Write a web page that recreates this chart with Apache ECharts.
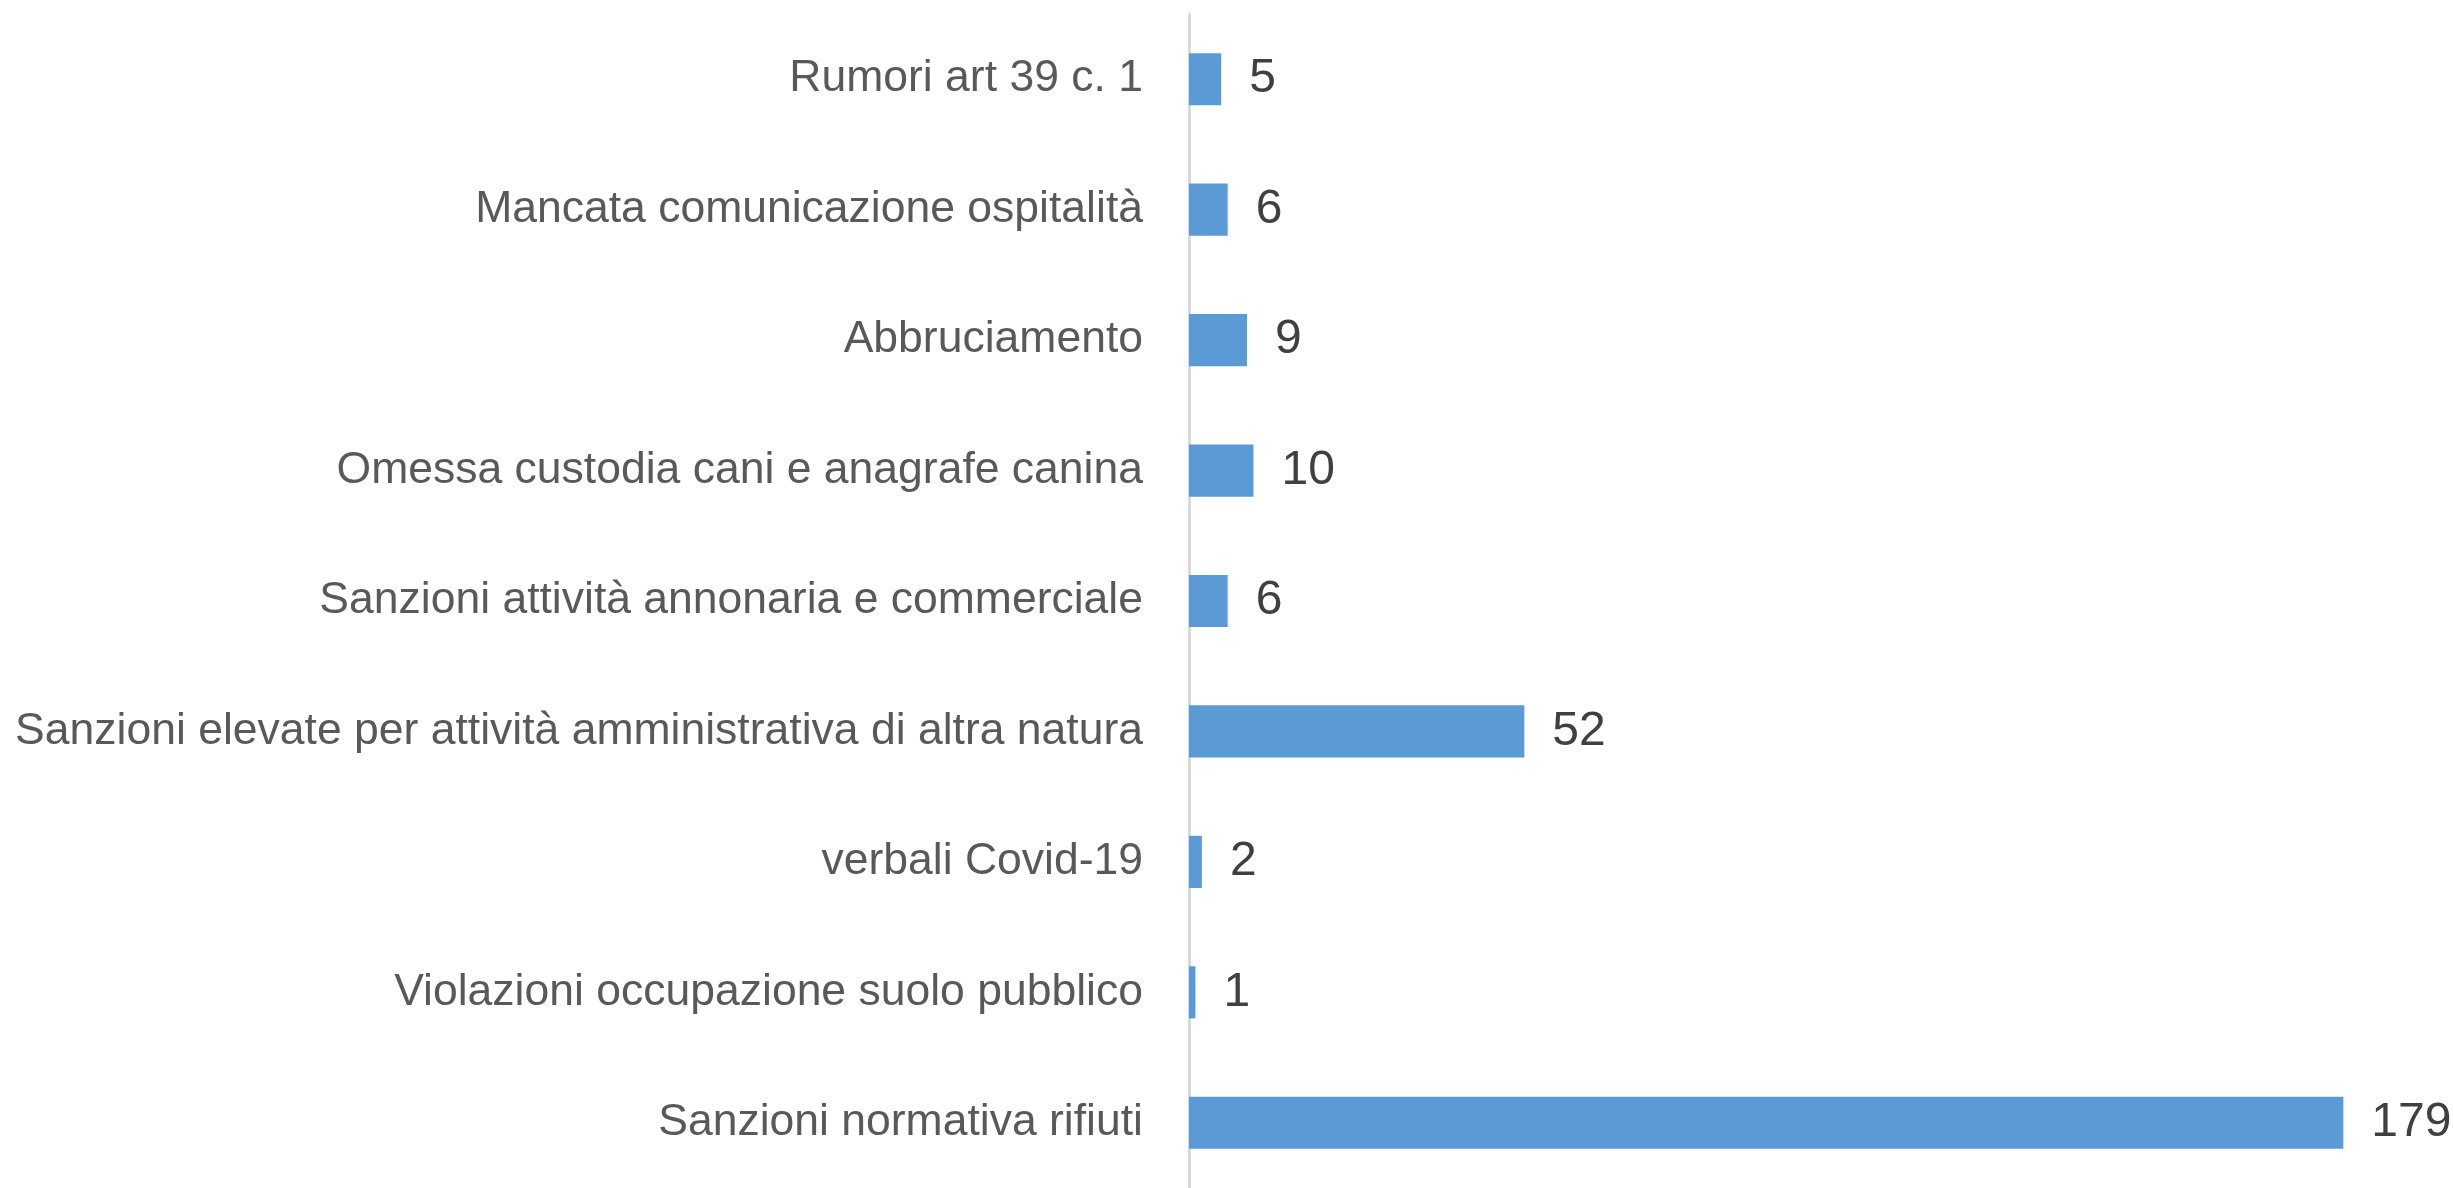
<!DOCTYPE html>
<html>
<head>
<meta charset="utf-8">
<script src="https://cdn.jsdelivr.net/npm/echarts@6/dist/echarts.min.js"></script>
<style>html,body{margin:0;padding:0;background:#fff}#c{width:2453px;height:1188px}</style>
</head>
<body>
<div id="c"></div>
<script>
// bottom-to-top order as drawn by ECharts
const categories = [
  "Sanzioni normativa rifiuti",
  "Violazioni occupazione suolo pubblico",
  "verbali Covid-19",
  "Sanzioni elevate per attività amministrativa di altra natura",
  "Sanzioni attività annonaria e commerciale",
  "Omessa custodia cani e anagrafe canina",
  "Abbruciamento",
  "Mancata comunicazione ospitalità",
  "Rumori art 39 c. 1"
];
const values = [179, 1, 2, 52, 6, 10, 9, 6, 5];

const FONT = "'Liberation Sans Narrow', 'Liberation Sans', sans-serif";
const chart = echarts.init(document.getElementById('c'));
chart.setOption({
  animation: false,
  backgroundColor: '#ffffff',
  grid: { left: 1189, right: 0, top: 14, bottom: -3, containLabel: false },
  xAxis: {
    type: 'value', min: 0, max: 196,
    show: false,
    splitLine: { show: false }
  },
  yAxis: {
    type: 'category',
    data: categories,
    axisLine: { show: true, lineStyle: { color: '#d9d9d9', width: 3 } },
    axisTick: { show: false },
    axisLabel: { color: '#595959', fontSize: 44.5, fontFamily: FONT, margin: 46 }
  },
  series: [{
    type: 'bar',
    data: values,
    barCategoryGap: '60%',
    itemStyle: { color: '#5b9bd5' },
    label: {
      show: true, position: 'right', distance: 28,
      color: '#404040', fontSize: 48, fontFamily: FONT
    }
  }]
});
</script>
</body>
</html>
